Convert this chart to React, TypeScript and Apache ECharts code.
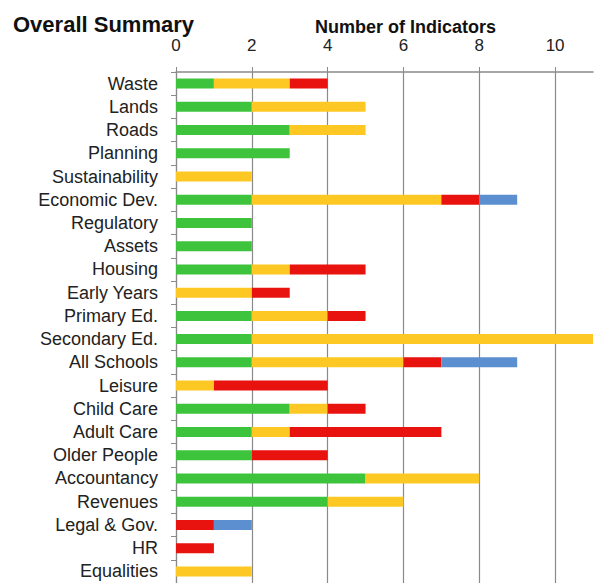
import React, { useEffect, useRef } from "react";
import * as echarts from "echarts";

const categories = [
  "Waste", "Lands", "Roads", "Planning", "Sustainability", "Economic Dev.",
  "Regulatory", "Assets", "Housing", "Early Years", "Primary Ed.", "Secondary Ed.",
  "All Schools", "Leisure", "Child Care", "Adult Care", "Older People",
  "Accountancy", "Revenues", "Legal & Gov.", "HR", "Equalities",
];
const greenValues = [1, 2, 3, 3, 0, 2, 2, 2, 2, 0, 2, 2, 2, 0, 3, 2, 2, 5, 4, 0, 0, 0];
const yellowValues = [2, 3, 2, 0, 2, 5, 0, 0, 1, 2, 2, 9, 4, 1, 1, 1, 0, 3, 2, 0, 0, 2];
const redValues = [1, 0, 0, 0, 0, 1, 0, 0, 2, 1, 1, 0, 1, 3, 1, 4, 2, 0, 0, 1, 1, 0];
const blueValues = [0, 0, 0, 0, 0, 1, 0, 0, 0, 0, 0, 0, 2, 0, 0, 0, 0, 0, 0, 1, 0, 0];
const axisMax = 11;
const tickInterval = 2;

const FONT = "'Liberation Sans', Arial, sans-serif";

export default function App() {
  const ref = useRef<HTMLDivElement>(null);
  useEffect(() => {
    if (!ref.current) return;
    const chart = echarts.init(ref.current, undefined, { renderer: "svg" });
    const mk = (name: string, data: number[], color: string) => ({
      name,
      type: "bar",
      stack: "total",
      barWidth: 10,
      data: data.map((v) => (v === 0 ? null : v)),
      itemStyle: { color },
    });
    chart.setOption({
      animation: false,
      backgroundColor: "#ffffff",
      title: [
        {
          text: "Overall Summary",
          left: 8,
          top: 8,
          textStyle: { fontFamily: FONT, fontWeight: "bold", fontSize: 22, color: "#111" },
        },
        {
          text: "Number of Indicators",
          left: 310,
          top: 13,
          textStyle: { fontFamily: FONT, fontWeight: "bold", fontSize: 18, color: "#111" },
        },
      ],
      grid: { left: 176, right: 8, top: 72, bottom: 0, containLabel: false },
      xAxis: {
        type: "value",
        position: "top",
        min: 0,
        max: axisMax,
        interval: tickInterval,
        axisLine: { show: true, lineStyle: { color: "#8a8a8a", width: 1.5 } },
        axisTick: { show: true, length: 5, lineStyle: { color: "#8a8a8a" } },
        axisLabel: {
          showMaxLabel: false,
          margin: 18,
          fontFamily: FONT,
          fontSize: 17,
          color: "#222",
        },
        splitLine: { show: true, showMaxLine: false, lineStyle: { color: "#8a8a8a", width: 1.2 } },
      },
      yAxis: {
        type: "category",
        inverse: true,
        data: categories,
        axisLine: { show: true, lineStyle: { color: "#8a8a8a", width: 1.2 } },
        axisTick: { show: true, length: 5, lineStyle: { color: "#8a8a8a" } },
        axisLabel: {
          interval: 0,
          margin: 18,
          fontFamily: FONT,
          fontSize: 18,
          color: "#222",
        },
      },
      series: [
        mk("Green", greenValues, "#3ec43c"),
        mk("Yellow", yellowValues, "#fdc824"),
        mk("Red", redValues, "#e8130f"),
        mk("Blue", blueValues, "#5b8fd0"),
      ],
    });
    return () => chart.dispose();
  }, []);
  return (
    <div
      ref={ref}
      style={{ position: "fixed", left: 0, top: 0, width: 601, height: 583, background: "#fff" }}
    />
  );
}
